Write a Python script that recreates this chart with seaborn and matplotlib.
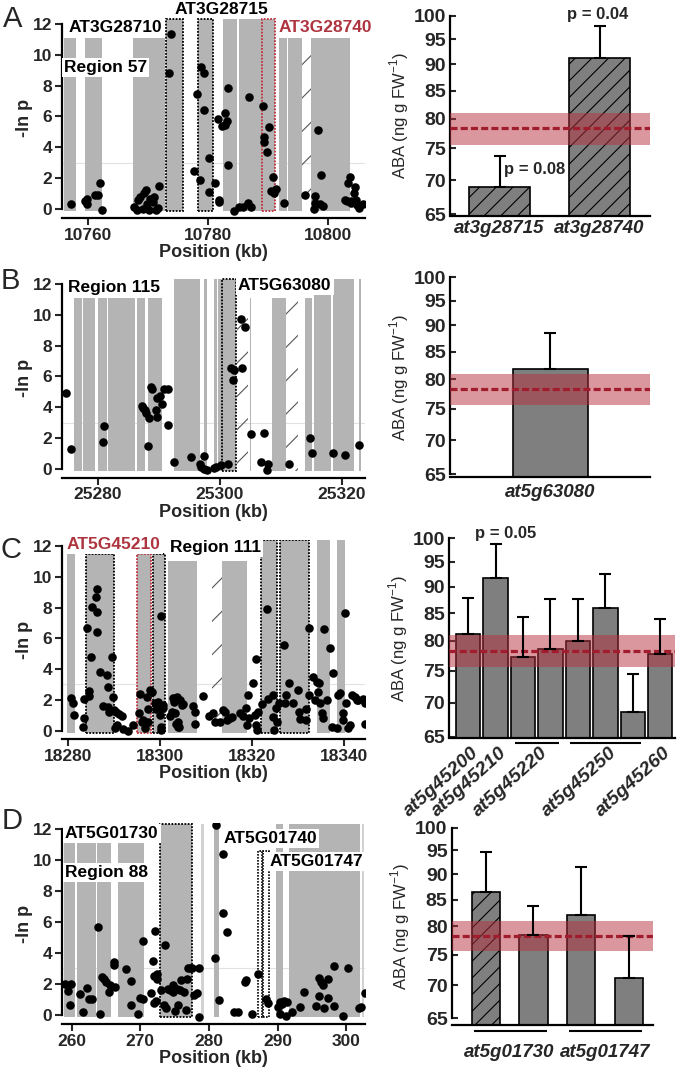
import numpy as np
import pandas as pd
import matplotlib
matplotlib.use("Agg")
import matplotlib.pyplot as plt
import matplotlib.transforms as mtransforms
from matplotlib.ticker import NullLocator
import seaborn as sns

sns.set_style("ticks")
plt.rcParams['font.family'] = ['Liberation Sans', 'DejaVu Sans']
plt.rcParams['font.weight'] = 'bold'
plt.rcParams['hatch.linewidth'] = 0.8
plt.rcParams['axes.linewidth'] = 1.6
plt.rcParams['axes.edgecolor'] = 'black'

# ---------------- data: panel A ----------------
A_pos = [10757.1, 10759.5, 10759.9, 10759.9, 10761.2, 10761.7, 10762.0, 10762.3,
         10767.6, 10768.1, 10768.4, 10768.7, 10769.1, 10769.3, 10769.7, 10769.8, 10770.1, 10770.3,
         10770.8, 10771.0, 10771.3, 10771.7, 10771.8, 10773.8, 10773.5,
         10777.7, 10778.1, 10778.8, 10779.3, 10779.4, 10778.7, 10780.1, 10780.2, 10781.1, 10781.8,
         10781.9, 10781.7, 10782.4, 10782.8, 10783.1, 10782.9, 10783.3, 10783.4, 10784.4, 10785.2,
         10785.9, 10786.9, 10786.7, 10787.2, 10789.2, 10789.4, 10789.3, 10790.1, 10789.9, 10790.8,
         10790.5, 10791.0, 10791.4, 10792.7, 10796.2, 10797.9, 10797.6, 10797.9, 10798.3, 10798.6,
         10799.1, 10798.9, 10802.8, 10803.2, 10803.7, 10803.4, 10803.8, 10804.5, 10804.3, 10804.7,
         10805.1, 10805.8, 10803.9, 10804.8]
A_lnp = [0.30, 0.52, 0.65, 0.32, 0.93, 0.91, 1.71, -0.06,
         0.11, -0.06, 0.58, 0.76, -0.02, 1.02, 1.23, 0.32, -0.06, 0.67,
         0.48, 0.76, -0.06, 0.04, 1.49, 11.33, 8.8,
         2.46, 7.46, 9.23, 8.84, 6.42, 1.88, 1.12, 3.29, 1.66, 0.58,
         0.43, 5.82, 5.38, 6.21, 5.73, 5.45, 7.87, 2.85, -0.1, 0.1,
         0.15, 7.24, 0.41, 0.15, 6.7, 4.69, 4.37, 5.3, 3.72, 2.05,
         1.19, 1.06, 1.32, 0.37, 0.91, 0.86, -0.02, 0.37, 5.12, 0.32,
         0.19, 2.18, 0.58, 0.52, 2.1, 1.71, 0.54, 1.41, 1.02, 0.58,
         0.04, 0.32, 0.41, 0.26]
A_gene_start = [10756.0, 10759.5, 10767.5, 10773.0, 10778.3, 10782.5, 10785.2, 10789.0, 10791.8, 10793.3, 10795.7, 10797.2]
A_gene_end   = [10758.0, 10762.3, 10772.8, 10775.8, 10780.8, 10784.8, 10789.0, 10791.2, 10793.2, 10795.7, 10797.2, 10803.7]
A_gene_top   = [11.1, 11.1, 11.1, 12.3, 12.3, 12.3, 12.3, 12.3, 11.1, 11.1, 11.1, 11.1]
A_gene_kind  = ['g', 'g', 'g', 'box', 'box', 'g', 'g', 'red', 'g', 'g', 'hatch', 'g']
A_xticks = [10760, 10780, 10800]

A_bars = ['at3g28715', 'at3g28740']
A_aba = [68.9, 91.2]
A_err = [4.9, 6.6]
A_hatched = [True, True]

# ---------------- data: panel B ----------------
B_pos = [25274.8, 25275.7, 25280.8, 25281.1, 25287.2, 25287.5, 25287.8, 25288.0, 25288.4, 25288.2,
         25288.7, 25288.9, 25289.5, 25289.7, 25289.8, 25290.2, 25290.6, 25290.8, 25291.5, 25291.5,
         25292.5, 25295.3, 25296.7, 25297.0, 25297.4, 25297.9, 25297.5, 25299.0, 25299.4, 25300.2,
         25301.4, 25301.9, 25302.2, 25302.4, 25303.6, 25303.5, 25304.2, 25305.1, 25306.8, 25307.3,
         25307.7, 25308.0, 25311.4, 25314.8, 25315.1, 25318.5, 25320.5, 25322.9]
B_lnp = [4.91, 1.3, 1.73, 2.79, 4.09, 3.98, 3.83, 3.61, 3.29, 1.51,
         5.3, 5.17, 3.83, 3.39, 4.58, 4.76, 4.22, 5.19, 5.19, 2.85,
         0.48, 0.76, 0.32, 0.11, -0.02, -0.06, 0.84, 0.04, 0.11, 0.24,
         0.32, 6.57, 5.77, 6.42, 6.57, 9.75, 9.19, 2.25, 0.45, 2.31,
         -0.06, 0.32, 0.32, 2.03, 1.02, 1.06, 0.89, 1.56]
B_gene_start = [25276.1, 25277.6, 25280.1, 25281.7, 25286.4, 25288.3, 25292.5, 25297.4, 25299.1, 25299.8,
                25300.3, 25302.8, 25304.9, 25308.5, 25310.9, 25314.0, 25315.5, 25318.6, 25322.9]
B_gene_end   = [25277.4, 25279.6, 25281.6, 25286.1, 25287.8, 25290.5, 25296.8, 25297.9, 25299.6, 25300.3,
                25302.7, 25304.7, 25305.1, 25310.9, 25312.9, 25315.2, 25318.2, 25322.0, 25323.2]
B_gene_top   = [11.1, 11.1, 11.1, 11.1, 11.1, 11.1, 12.3, 12.3, 12.3, 12.3,
                12.3, 11.1, 11.1, 11.1, 11.1, 11.1, 12.3, 12.3, 12.3]
B_gene_kind  = ['g', 'g', 'g', 'g', 'g', 'g', 'g', 'g', 'g', 'g',
                'box', 'hatch', 'g', 'g', 'hatch', 'g', 'g', 'g', 'g']
B_xticks = [25280, 25300, 25320]

B_bars = ['at5g63080']
B_aba = [81.8]
B_err = [6.8]
B_hatched = [False]

# ---------------- data: panel C ----------------
C_pos = [18280.5, 18281.1, 18281.2,
         18283.3, 18283.5, 18283.4, 18284.1, 18284.5, 18284.6, 18284.9, 18285.1, 18286.0, 18286.2,
         18286.3, 18286.3, 18286.8, 18287.5, 18288.5, 18288.6, 18288.7, 18288.9, 18289.5, 18289.7,
         18289.9, 18290.5, 18291.1, 18291.6, 18290.2, 18290.7, 18292.0, 18293.1, 18294.2,
         18295.6, 18295.5, 18296.0, 18296.3, 18296.8, 18297.1, 18297.4, 18297.4, 18297.8, 18298.2,
         18298.9, 18299.2, 18299.5, 18299.8, 18300.3, 18300.3, 18300.2, 18300.0, 18300.6, 18300.7,
         18302.1, 18302.5, 18302.9, 18303.0, 18303.2, 18303.5, 18303.6, 18303.8, 18304.0, 18304.2,
         18304.3, 18304.7, 18304.9, 18307.1, 18307.6, 18307.7,
         18309.4, 18310.7, 18311.6, 18312.0, 18313.0, 18313.6, 18314.1, 18314.5, 18315.2, 18315.6,
         18317.4, 18318.1, 18318.7, 18318.9, 18319.2, 18319.4, 18320.3, 18320.7, 18320.9, 18321.0,
         18321.2, 18321.4, 18322.3, 18323.2, 18323.4, 18324.5, 18324.6, 18324.8, 18325.2, 18325.4,
         18325.8, 18327.1, 18327.2, 18327.4, 18328.1, 18329.0, 18330.1, 18330.3, 18330.5, 18331.7,
         18331.8, 18332.4, 18332.5, 18333.4, 18333.7, 18334.1, 18334.5, 18334.7, 18334.8, 18335.2,
         18335.4, 18335.7, 18336.3, 18337.0, 18337.6, 18337.4, 18338.5, 18338.8, 18339.3, 18339.8,
         18339.9, 18340.3, 18340.6, 18341.0, 18341.4, 18341.9, 18342.5, 18343.2, 18342.8, 18344.1,
         18344.6, 18344.6]
C_lnp = [2.1, 1.82, 1.02,
         0.26, 0.8, 2.04, 6.69, 2.6, 2.25, 4.76, 8.01, 8.66, 9.18,
         7.73, 6.43, 3.79, 1.6, 3.62, 2.82, 1.56, 1.23, 4.76, 2.21,
         1.34, 1.19, 1.08, 0.95, 0.15, 0.37, 0.09, 0.0, 0.37,
         2.38, 1.13, 0.58, 0.69, 0.15, 2.21, 0.58, 1.39, 2.64, 2.53,
         1.78, 1.39, 1.88, 1.56, 7.45, 0.26, 0.04, 1.02, 1.67, 1.45,
         0.95, 1.23, 2.1, 1.88, 1.13, 0.43, 2.21, 0.26, 0.58, 0.26,
         1.99, 1.67, 1.73, 1.62, 1.23, 0.43,
         2.25, 0.97, 1.13, 0.58, 0.58, 1.34, 1.19, 0.69, 0.8, 0.9,
         1.13, 0.97, 1.45, 0.37, 2.32, 0.8, 3.08, 1.02, 0.37, 4.63,
         0.04, 1.23, 1.73, 7.88, 2.04, 2.32, 0.9, 0.04, 1.45, 0.58,
         1.78, 5.57, 1.78, 2.32, 3.08, 1.78, 2.64, 1.23, 0.75, 0.69,
         1.39, 6.65, 2.32, 3.51, 1.99, 3.18, 2.53, 3.08, 1.78, 1.15,
         0.8, 6.58, 1.99, 5.35, 3.73, 0.22, 0.15, 2.32, 2.43, 1.15,
         0.69, 7.67, 1.78, 0.15, 0.37, 2.32, 2.21, 1.99, 2.0, 2.04,
         1.78, 0.45]
C_gene_start = [18279.8, 18283.8, 18294.9, 18298.5, 18301.8, 18311.2, 18313.4, 18322.0, 18326.1, 18334.2, 18338.6]
C_gene_end   = [18281.5, 18290.0, 18298.0, 18301.1, 18308.0, 18313.4, 18318.9, 18325.5, 18332.5, 18337.0, 18340.3]
C_gene_top   = [11.5, 11.5, 11.5, 11.5, 11.0, 11.0, 11.0, 12.4, 12.4, 12.4, 12.4]
C_gene_kind  = ['g', 'box', 'red', 'box', 'g', 'hatch', 'g', 'box', 'box', 'g', 'g']
C_xticks = [18280, 18300, 18320, 18340]

C_bars = ['at5g45200', 'at5g45210', 'at5g45220 #1', 'at5g45220 #2',
          'at5g45250 #1', 'at5g45250 #2', 'at5g45250 #3', 'at5g45260']
C_aba = [81.3, 91.8, 77.3, 78.7, 80.0, 86.0, 68.5, 77.7]
C_err = [6.6, 6.9, 6.9, 9.0, 7.6, 6.6, 6.0, 6.2]
C_hatched = [False] * 8
C_groups = [(0, 0, 'at5g45200'), (1, 1, 'at5g45210'), (2, 3, 'at5g45220'),
            (4, 6, 'at5g45250'), (7, 7, 'at5g45260')]

# ---------------- data: panel D ----------------
D_pos = [259.1, 259.5, 259.9, 259.8, 261.2, 261.7, 262.3, 262.5, 262.9, 263.9, 264.2, 264.4, 264.7,
         265.0, 265.5, 265.6, 266.1, 266.2, 266.3, 267.9, 268.6, 268.7, 269.7, 269.9, 270.4, 270.4,
         271.5, 271.8, 272.0, 272.2, 272.0, 272.3, 272.4, 272.5, 273.0, 273.6, 273.5, 273.8, 274.1,
         274.4, 274.7, 274.8, 275.1, 275.3, 275.5, 275.8, 276.0, 276.3, 276.7, 276.8, 276.9, 277.2,
         277.5, 277.8, 278.2, 278.5, 278.6, 280.9, 281.5, 281.0, 282.0, 282.0, 282.7, 283.6, 284.3,
         285.2, 285.4, 286.3, 287.1, 288.3, 288.6, 290.1, 290.4, 290.6, 290.9, 291.2, 291.4, 290.3,
         292.1, 293.3, 293.9, 295.6, 296.0, 296.1, 296.3, 296.6, 296.8, 297.4, 297.4, 298.2, 298.2,
         299.5, 300.2, 301.9, 302.1, 302.8]
D_lnp = [2.0, 1.55, 2.0, 0.65, 1.33, 0.17, 1.76, 1.01, 1.03, 5.7, 0.04, 2.47, 2.32,
         2.15, 1.51, 1.94, 3.23, 3.44, 1.83, 2.95, 2.22, 0.65, 0.04, 1.08, 1.01, 4.77,
         1.4, 3.48, 2.54, 5.42, 0.75, 0.9, 2.32, 2.65, 1.61, 4.52, 0.65, 0.47, 1.68,
         1.61, 1.94, 1.51, 0.26, 1.68, 0.65, 1.61, 2.26, 1.51, 0.32, 2.32, 3.01, 3.05,
         3.01, 1.29, 1.4, 3.01, -0.11, 3.7, 0.97, 12.26, 10.39, 6.56, 5.38, 0.22, 0.22,
         2.15, 2.26, 0.04, 2.62, 1.01, 0.75, 0.54, 0.82, 0.69, 0.9, -0.06, 0.86, 0.04,
         0.22, 0.54, 1.51, 0.56, 2.37, 1.25, 2.15, 1.94, 0.43, 2.3, 1.08, 3.16, 0.58,
         -0.04, 3.01, 0.43, 0.54, 1.4]
D_gene_start = [258.9, 260.8, 263.7, 266.8, 272.9, 278.9, 280.7, 287.2, 287.9, 289.8, 291.7, 302.3]
D_gene_end   = [260.5, 263.5, 265.7, 270.5, 277.6, 279.3, 281.5, 287.8, 288.8, 290.8, 302.0, 302.6]
D_gene_top   = [11.1, 11.1, 11.1, 11.1, 12.3, 12.3, 12.3, 10.6, 10.6, 12.3, 12.3, 12.3]
D_gene_kind  = ['g', 'g', 'g', 'g', 'box', 'light', 'g', 'open', 'open', 'g', 'g', 'light']
D_xticks = [260, 270, 280, 290, 300]

D_bars = ['at5g01730 #1', 'at5g01730 #2', 'at5g01747 #1', 'at5g01747 #2']
D_aba = [86.4, 78.5, 82.1, 71.2]
D_err = [8.2, 5.3, 9.3, 7.0]
D_hatched = [True, False, False, False]
D_groups = [(0, 1, 'at5g01730'), (2, 3, 'at5g01747')]

# control (wild type) ABA level: mean and band
CTRL_MEAN, CTRL_LO, CTRL_HI = 78.3, 75.6, 81.0
ABA_TICKS = [65, 70, 75, 80, 85, 90, 95, 100]

# ---------------- styling ----------------
W, H = 677, 1075
fig = plt.figure(figsize=(W / 100, H / 100), dpi=100)
GRAY = '#b4b4b4'
LIGHT = '#d2d2d2'
BARGRAY = '#7f7f7f'
RED = '#ae3540'
BOT = -0.15


def px_axes(x0, x1, ytop, ybot):
    return fig.add_axes([x0 / W, 1 - ybot / H, (x1 - x0) / W, (ybot - ytop) / H])


def region_panel(ax, pos, lnp, gs, ge, gt, gk, xlim, ylim, xticks):
    ax.axhline(3, color='#e2e2e2', lw=0.8, zorder=0.5)
    dots = (0, (1.0, 0.8))
    for s, e, t, k in zip(gs, ge, gt, gk):
        w = e - s
        if k == 'g':
            ax.bar(s, t - BOT, width=w, bottom=BOT, align='edge', color=GRAY, lw=0, zorder=1)
        elif k == 'light':
            ax.bar(s, t - BOT, width=w, bottom=BOT, align='edge', color=LIGHT, lw=0, zorder=1)
        elif k == 'box':
            ax.bar(s, t - BOT, width=w, bottom=BOT, align='edge', facecolor=GRAY,
                   edgecolor='black', lw=1.3, linestyle=dots, zorder=1.5)
        elif k == 'red':
            ax.bar(s, t - BOT, width=w, bottom=BOT, align='edge', facecolor=GRAY,
                   edgecolor='#c0303c', lw=1.3, linestyle=dots, zorder=1.5)
        elif k == 'open':
            ax.bar(s, t - BOT, width=w, bottom=BOT, align='edge', facecolor='white',
                   edgecolor='black', lw=1.2, linestyle=dots, zorder=1.5)
        elif k == 'hatch':
            ax.bar(s, t - BOT, width=w, bottom=BOT, align='edge', facecolor='none',
                   edgecolor='#555555', hatch='/', lw=0, zorder=1)
    sns.scatterplot(x=np.array(pos), y=np.array(lnp), ax=ax, color='black', s=38,
                    linewidth=0, zorder=5, legend=False)
    ax.set_xlim(*xlim)
    ax.set_ylim(*ylim)
    ax.set_xticks(xticks, labels=[str(t) for t in xticks], fontweight='bold')
    ax.set_yticks(list(range(0, 13, 2)), labels=[str(t) for t in range(0, 13, 2)], fontweight='bold')
    ax.spines['top'].set_visible(False)
    ax.spines['right'].set_visible(False)
    ax.spines['left'].set_bounds(0, 12)
    ax.tick_params(direction='out', length=5, width=1.5, labelsize=12.5, pad=2)
    ax.set_ylabel('-ln p', fontsize=13, fontweight='bold', labelpad=0)
    ax.set_xlabel('Position (kb)', fontsize=13, fontweight='bold', labelpad=1)


def label(ax, x, y, s, color='black', ha='left', box=True):
    kw = dict(fontsize=12.5, fontweight='bold', color=color, ha=ha, va='center', zorder=4)
    if box:
        kw['bbox'] = dict(facecolor='white', edgecolor='none', pad=1.5)
    ax.text(x, y, s, **kw)


def aba_panel(ax, bars, aba, err, hatched, width, xlim, ybottom):
    df = pd.DataFrame({'bar': bars, 'aba': aba})
    sns.barplot(data=df, x='bar', y='aba', ax=ax, color=BARGRAY, saturation=1,
                edgecolor='black', linewidth=1.2, errorbar=None, width=width, zorder=2)
    for p, h in zip(ax.patches, hatched):
        p.set_y(50)
        p.set_height(p.get_height() - 50)
        if h:
            p.set_hatch('//')
    ax.set_yscale('log')
    ax.axhspan(CTRL_LO, CTRL_HI, color='#b8303f', alpha=0.5, lw=0, zorder=3)
    ax.axhline(CTRL_MEAN, color='#a11c2c', lw=2.3, ls=(0, (2.2, 1.0)), zorder=4)
    xs = np.arange(len(bars))
    ax.errorbar(xs, aba, yerr=[np.zeros(len(bars)), err], fmt='none', ecolor='black',
                elinewidth=1.5, capsize=4, capthick=1.5, zorder=6)
    ax.set_ylim(ybottom, 100)
    ax.set_xlim(*xlim)
    ax.set_yticks(ABA_TICKS, labels=[str(t) for t in ABA_TICKS], fontweight='bold')
    ax.yaxis.set_minor_locator(NullLocator())
    ax.spines['top'].set_visible(False)
    ax.spines['right'].set_visible(False)
    ax.spines['left'].set_bounds(65, 100)
    ax.tick_params(axis='y', direction='in', length=4, width=1.5, labelsize=14, pad=3)
    ax.tick_params(axis='x', length=0, labelsize=13.5)
    ax.set_xlabel('')
    ax.set_ylabel('ABA (ng g FW$^{\\mathregular{-1}}$)', fontsize=12, fontweight='normal', labelpad=2)


def italic_ticks(ax):
    for t in ax.get_xticklabels():
        t.set_fontstyle('italic')
        t.set_fontweight('bold')


def group_lines(ax, groups, y, lo, hi):
    tr = mtransforms.blended_transform_factory(ax.transData, ax.transAxes)
    for i, j, _ in groups:
        if j > i:
            ax.plot([i - lo, j + hi], [y, y], color='black', lw=1.5, transform=tr,
                    clip_on=False, solid_capstyle='butt')


# ---------------- Panel A ----------------
axA = px_axes(62, 365, 17.8, 218)
region_panel(axA, A_pos, A_lnp, A_gene_start, A_gene_end, A_gene_top, A_gene_kind,
             (10755.67, 10806.17), (-0.584, 12.4), A_xticks)
label(axA, 10756.7, 11.8, 'AT3G28710')
label(axA, 10756.0, 9.2, 'Region 57')
label(axA, 10782.3, 12.95, 'AT3G28715', ha='center', box=False)
label(axA, 10791.8, 11.75, 'AT3G28740', color=RED)

axA2 = px_axes(450, 650, 15.7, 216)
aba_panel(axA2, A_bars, A_aba, A_err, A_hatched, 0.61, (-0.495, 1.505), 64.76)
italic_ticks(axA2)
axA2.tick_params(axis='x', pad=3)
axA2.text(0.04, 71.7, 'p = 0.08', fontsize=12, fontweight='bold', ha='left', va='center')
axA2.text(0.98, 100.3, 'p = 0.04', fontsize=12, fontweight='bold', ha='center', va='center')

# ---------------- Panel B ----------------
axB = px_axes(62, 365, 277.8, 477.7)
region_panel(axB, B_pos, B_lnp, B_gene_start, B_gene_end, B_gene_top, B_gene_kind,
             (25274.15, 25323.82), (-0.564, 12.4), B_xticks)
label(axB, 25275.1, 11.8, 'Region 115')
label(axB, 25303.0, 11.9, 'AT5G63080')

axB2 = px_axes(450, 650, 277.3, 477.3)
aba_panel(axB2, B_bars, B_aba, B_err, B_hatched, 0.375, (-0.5, 0.5), 64.55)
italic_ticks(axB2)
axB2.tick_params(axis='x', pad=5)

# ---------------- Panel C ----------------
axC = px_axes(62, 365, 539.8, 739.3)
region_panel(axC, C_pos, C_lnp, C_gene_start, C_gene_end, C_gene_top, C_gene_kind,
             (18278.63, 18344.64), (-0.56, 12.4), C_xticks)
label(axC, 18279.7, 12.07, 'AT5G45210', color=RED)
label(axC, 18302.2, 11.9, 'Region 111')

axC2 = px_axes(449, 675, 538.1, 738.3)
aba_panel(axC2, C_bars, C_aba, C_err, C_hatched, 0.89, (-0.70, 7.54), 64.77)
cpos = [(i + j) / 2 for i, j, _ in C_groups]
axC2.set_xticks(cpos, labels=[g for _, _, g in C_groups], rotation=42,
                ha='right', rotation_mode='anchor')
italic_ticks(axC2)
axC2.tick_params(axis='x', pad=4, labelsize=14)
off = mtransforms.ScaledTranslation(3 / 100, 0, fig.dpi_scale_trans)
for t in axC2.get_xticklabels():
    t.set_transform(t.get_transform() + off)
group_lines(axC2, C_groups, -0.025, 0.3, 0.3)
axC2.text(1.38, 100.9, 'p = 0.05', fontsize=12, fontweight='bold', ha='center', va='center')

# ---------------- Panel D ----------------
axD = px_axes(62, 365, 822.8, 1024.3)
region_panel(axD, D_pos, D_lnp, D_gene_start, D_gene_end, D_gene_top, D_gene_kind,
             (258.59, 302.75), (-0.6, 12.4), D_xticks)
label(axD, 259.0, 11.7, 'AT5G01730')
label(axD, 259.0, 9.2, 'Region 88')
label(axD, 282.1, 11.4, 'AT5G01740')
label(axD, 288.9, 9.9, 'AT5G01747')

axD2 = px_axes(451.7, 653, 827.7, 1025)
aba_panel(axD2, D_bars, D_aba, D_err, D_hatched, 0.59, (-0.71, 3.5), 64.0)
dpos = [(i + j) / 2 for i, j, _ in D_groups]
axD2.set_xticks(dpos, labels=[g for _, _, g in D_groups])
italic_ticks(axD2)
axD2.tick_params(axis='x', pad=14)
group_lines(axD2, D_groups, -0.03, 0.25, 0.28)

# panel letters
for s, x, y in [('A', 3, 27), ('B', 1, 289), ('C', 1, 558), ('D', 2, 829)]:
    fig.text(x / W, 1 - y / H, s, fontsize=21, fontweight='normal', ha='left', va='baseline')

fig.savefig('out.png', dpi=100)
